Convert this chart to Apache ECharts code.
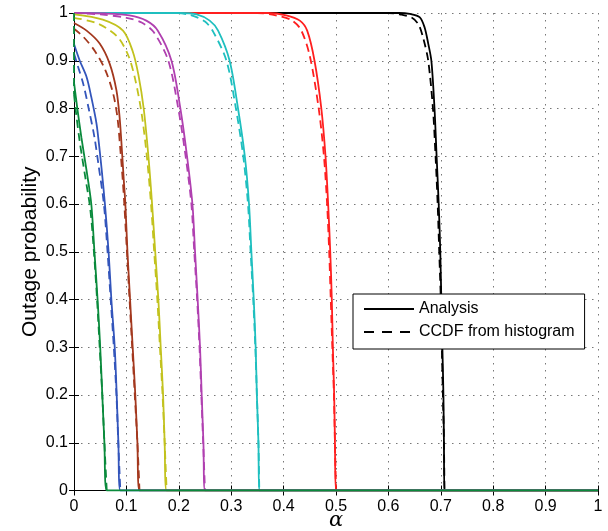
<!DOCTYPE html>
<html>
<head>
<meta charset="utf-8">
<script src="https://cdn.jsdelivr.net/npm/echarts@6/dist/echarts.min.js"></script>
<style>
  html, body { margin: 0; padding: 0; background: #fff; }
  #container { width: 608px; height: 531px; }
</style>
</head>
<body>
<div id="container"></div>
<script>
// curves: [alpha, outage probability]
// drawn black first, green last (so later colours sit on top)
const blackAnalysis = [[0,1],[0.62,1],[0.641,0.998],[0.66,0.991],[0.669,0.970],[0.676,0.936],[0.682,0.90],[0.688,0.80],[0.692,0.70],[0.696,0.60],[0.699,0.50],[0.701,0.40],[0.703,0.30],[0.705,0.20],[0.706,0.10],[0.707,0],[1,0]];
const blackHist = [[0,1],[0.60,1],[0.622,0.997],[0.645,0.99],[0.658,0.975],[0.667,0.945],[0.676,0.90],[0.685,0.80],[0.690,0.70],[0.694,0.60],[0.697,0.50],[0.700,0.40],[0.702,0.30],[0.704,0.20],[0.706,0.10],[0.707,0]];

const redAnalysis = [[0,1],[0.37,1],[0.405,0.995],[0.431,0.984],[0.445,0.963],[0.459,0.90],[0.472,0.80],[0.480,0.70],[0.485,0.60],[0.489,0.50],[0.492,0.40],[0.494,0.30],[0.4965,0.20],[0.498,0.10],[0.5,0],[1,0]];
const redHist = [[0,1],[0.35,1],[0.385,0.995],[0.415,0.985],[0.433,0.965],[0.450,0.91],[0.467,0.80],[0.477,0.70],[0.483,0.60],[0.487,0.50],[0.490,0.40],[0.493,0.30],[0.496,0.20],[0.498,0.10],[0.5,0]];

const cyanAnalysis = [[0,1],[0.20,1],[0.234,0.997],[0.259,0.984],[0.275,0.963],[0.297,0.90],[0.313,0.80],[0.326,0.70],[0.334,0.60],[0.3385,0.50],[0.343,0.40],[0.3467,0.30],[0.349,0.20],[0.352,0.10],[0.3536,0],[1,0]];
const cyanHist = [[0,1],[0.19,1],[0.222,0.996],[0.250,0.982],[0.266,0.96],[0.291,0.90],[0.309,0.80],[0.323,0.70],[0.332,0.60],[0.337,0.50],[0.342,0.40],[0.346,0.30],[0.349,0.20],[0.352,0.10],[0.3536,0]];

const magentaAnalysis = [[0,1],[0.06,0.999],[0.106,0.995],[0.138,0.984],[0.160,0.963],[0.186,0.90],[0.203,0.80],[0.2157,0.70],[0.226,0.60],[0.231,0.50],[0.236,0.40],[0.2405,0.30],[0.2437,0.20],[0.247,0.10],[0.25,0],[1,0]];
const magentaHist = [[0,1],[0.05,0.997],[0.10,0.99],[0.129,0.98],[0.152,0.96],[0.180,0.90],[0.199,0.80],[0.213,0.70],[0.224,0.60],[0.2295,0.50],[0.235,0.40],[0.2395,0.30],[0.243,0.20],[0.2465,0.10],[0.25,0]];

const yellowAnalysis = [[0,0.997],[0.055,0.986],[0.0935,0.963],[0.112,0.92],[0.123,0.87],[0.133,0.80],[0.142,0.70],[0.149,0.60],[0.155,0.50],[0.161,0.40],[0.1655,0.30],[0.170,0.20],[0.173,0.10],[0.1768,0],[1,0]];
const yellowHist = [[0,0.99],[0.045,0.978],[0.083,0.95],[0.104,0.91],[0.117,0.86],[0.129,0.79],[0.139,0.70],[0.147,0.60],[0.153,0.50],[0.159,0.40],[0.164,0.30],[0.169,0.20],[0.173,0.10],[0.1768,0]];

const brownAnalysis = [[0,0.979],[0.024,0.963],[0.049,0.936],[0.068,0.894],[0.081,0.838],[0.087,0.782],[0.091,0.72],[0.095,0.65],[0.098,0.60],[0.102,0.50],[0.107,0.40],[0.112,0.30],[0.117,0.20],[0.121,0.10],[0.125,0],[1,0]];
const brownHist = [[0,0.967],[0.018,0.95],[0.040,0.92],[0.060,0.88],[0.075,0.83],[0.083,0.78],[0.088,0.72],[0.093,0.65],[0.096,0.60],[0.101,0.50],[0.106,0.40],[0.111,0.30],[0.116,0.20],[0.121,0.10],[0.125,0]];

const blueAnalysis = [[0,0.935],[0.011,0.90],[0.024,0.866],[0.033,0.824],[0.043,0.768],[0.049,0.712],[0.053,0.67],[0.059,0.60],[0.066,0.50],[0.0713,0.40],[0.0777,0.30],[0.0815,0.20],[0.0847,0.10],[0.0884,0],[1,0]];
const blueHist = [[0,0.915],[0.007,0.89],[0.018,0.85],[0.028,0.80],[0.039,0.74],[0.047,0.68],[0.057,0.60],[0.064,0.50],[0.070,0.40],[0.076,0.30],[0.081,0.20],[0.0845,0.10],[0.0884,0]];

const greenAnalysis = [[0,0.855],[0.006,0.803],[0.014,0.74],[0.024,0.67],[0.033,0.60],[0.039,0.50],[0.045,0.40],[0.050,0.30],[0.054,0.20],[0.058,0.10],[0.0625,0],[1,0]];
const greenHist = [[0,0.83],[0.004,0.79],[0.011,0.73],[0.021,0.66],[0.031,0.59],[0.038,0.50],[0.044,0.40],[0.049,0.30],[0.054,0.20],[0.058,0.10],[0.0625,0]];
// green histogram bar at alpha = 0 running up the left axis
const greenHistStart = [[0,1],[0,0.83]];

const legendNames = ['Analysis', 'CCDF from histogram'];

const curves = [
    ['#000000', blackAnalysis, blackHist],
    ['#ff1f1f', redAnalysis, redHist],
    ['#1fbfbf', cyanAnalysis, cyanHist],
    ['#b040b0', magentaAnalysis, magentaHist],
    ['#c2c21e', yellowAnalysis, yellowHist],
    ['#a3381e', brownAnalysis, brownHist],
    ['#3355bb', blueAnalysis, blueHist],
    ['#0a8a3c', greenAnalysis, greenHist]
];

const FONT = 'Liberation Sans, Arial, Helvetica, sans-serif';
const DASH = [8, 5];
const LW = 1.8;

let series = [];
curves.forEach(function (c) {
    series.push({
        type: 'line', data: c[1], symbol: 'none', silent: true, smooth: 0.3,
        lineStyle: { color: c[0], width: LW }
    });
    series.push({
        type: 'line', data: c[2], symbol: 'none', silent: true, smooth: 0.3,
        lineStyle: { color: c[0], width: LW, type: DASH }
    });
});
series.push({
    type: 'line', data: greenHistStart, symbol: 'none', silent: true,
    lineStyle: { color: '#0a8a3c', width: LW, type: DASH }
});
// legend entries only
series.push({ name: legendNames[0], type: 'line', data: [], symbol: 'none', symbolSize: 0,
    itemStyle: { color: '#000', opacity: 0 }, lineStyle: { color: '#000', width: 1.3 } });
series.push({ name: legendNames[1], type: 'line', data: [], symbol: 'none', symbolSize: 0,
    itemStyle: { color: '#000', opacity: 0 }, lineStyle: { color: '#000', width: 1.3, type: [10, 8] } });

const hiddenAxis = {
    axisLine: { show: true, lineStyle: { color: '#000', width: 1 } },
    axisTick: { show: true, inside: true, length: 5, lineStyle: { color: '#000' } },
    axisLabel: { show: false },
    splitLine: { show: false }
};

let dom = document.getElementById('container');
let myChart = echarts.init(dom, null, { renderer: 'canvas' });

let option = {
    animation: false,
    backgroundColor: '#fff',
    grid: { left: 74, right: 10, top: 13, bottom: 40.5, containLabel: false, outerBoundsMode: 'none' },
    legend: {
        show: true,
        data: legendNames,
        orient: 'vertical',
        left: 353,
        top: 294,
        itemWidth: 50,
        itemHeight: 14,
        itemGap: 7,
        padding: [7, 10, 9, 10],
        backgroundColor: '#fff',
        borderColor: '#000',
        borderWidth: 1,
        borderRadius: 0,
        selectedMode: false,
        itemStyle: { opacity: 0 },
        textStyle: { fontFamily: FONT, fontSize: 16, color: '#000' }
    },
    xAxis: [
        {
            type: 'value', min: 0, max: 1, interval: 0.1,
            name: 'α', nameLocation: 'middle', nameGap: 20, nameMoveOverlap: false,
            nameTextStyle: { fontFamily: 'DejaVu Serif, serif', fontStyle: 'italic', fontSize: 21, color: '#000' },
            axisLine: { show: true, lineStyle: { color: '#000', width: 1 } },
            axisTick: { show: true, inside: true, length: 5, lineStyle: { color: '#000' } },
            axisLabel: { fontFamily: FONT, fontSize: 16, color: '#000', margin: 8 },
            splitLine: { show: true, lineStyle: { color: '#777', width: 1, type: [1.5, 5.5] } }
        },
        Object.assign({ type: 'value', min: 0, max: 1, interval: 0.1, position: 'top' }, hiddenAxis)
    ],
    yAxis: [
        {
            type: 'value', min: 0, max: 1, interval: 0.1,
            name: 'Outage probability', nameLocation: 'middle', nameGap: 33, nameMoveOverlap: false,
            nameTextStyle: { fontFamily: FONT, fontSize: 21, color: '#000' },
            axisLine: { show: true, lineStyle: { color: '#000', width: 1 } },
            axisTick: { show: true, inside: true, length: 5, lineStyle: { color: '#000' } },
            axisLabel: { fontFamily: FONT, fontSize: 16, color: '#000', margin: 6 },
            splitLine: { show: true, lineStyle: { color: '#777', width: 1, type: [1.5, 5.5] } }
        },
        Object.assign({ type: 'value', min: 0, max: 1, interval: 0.1, position: 'right' }, hiddenAxis)
    ],
    series: series
};
myChart.setOption(option);
</script>
</body>
</html>
